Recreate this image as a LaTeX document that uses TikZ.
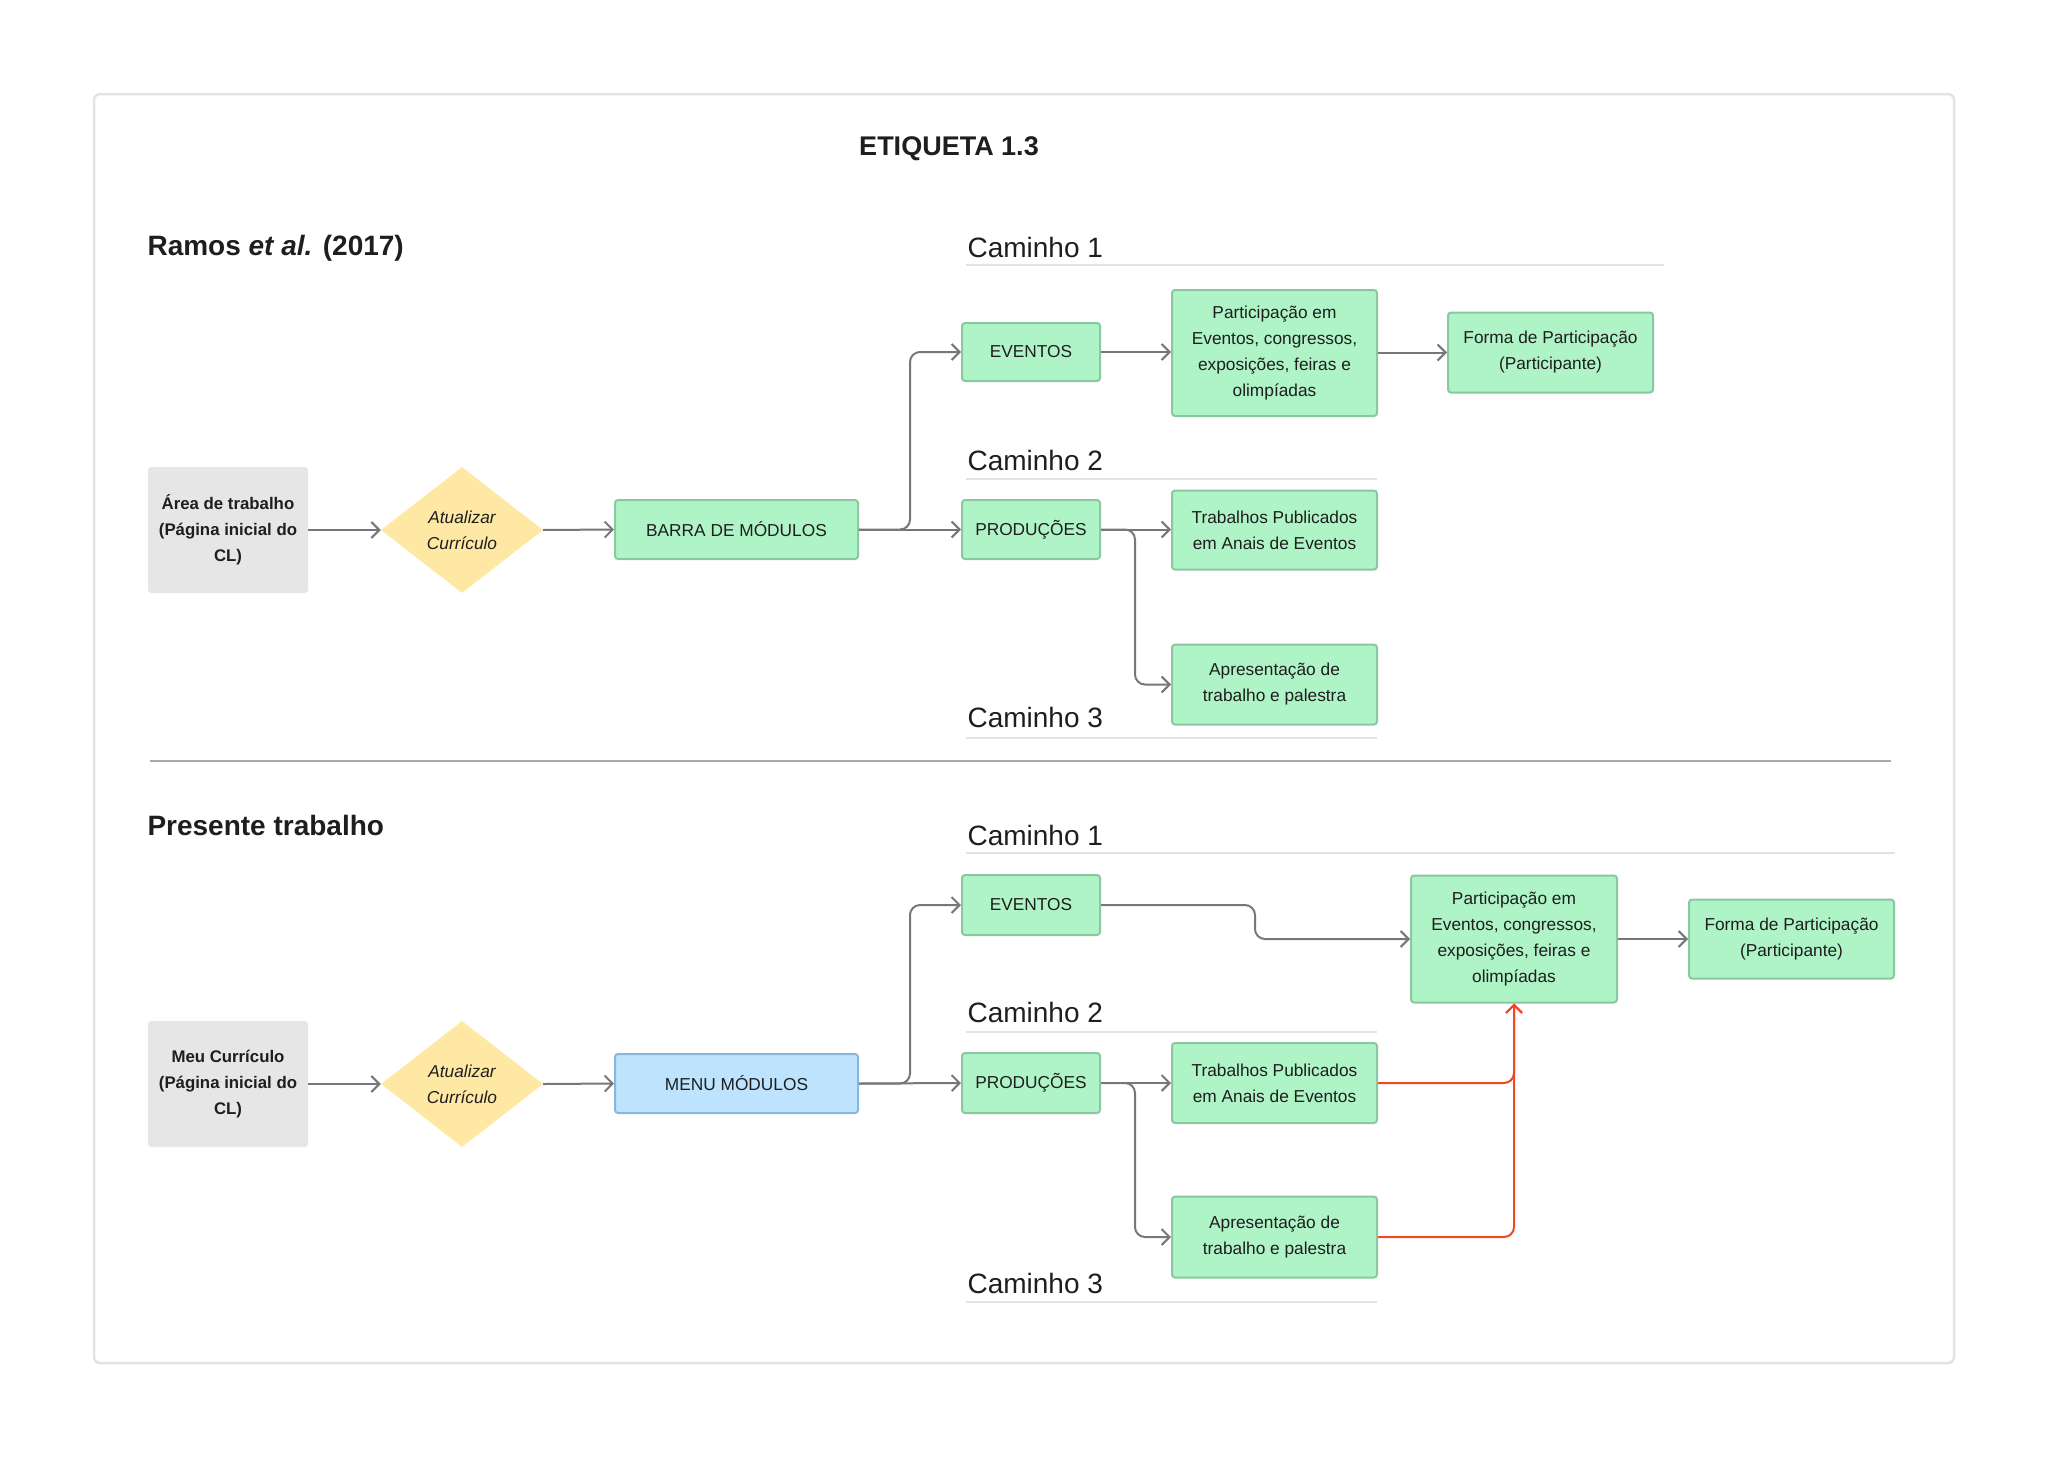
\documentclass[tikz,border=0pt]{standalone}
\usepackage{fontspec}
\setmainfont{Liberation Sans}
\usetikzlibrary{shapes.geometric,arrows.meta}
\definecolor{gfill}{HTML}{AFF4C6}
\definecolor{gborder}{HTML}{8BC7A0}
\definecolor{bfill}{HTML}{BDE3FF}
\definecolor{bborder}{HTML}{8DB5D6}
\definecolor{grayfill}{HTML}{E6E6E6}
\definecolor{yfill}{HTML}{FFE8A3}
\definecolor{conncol}{HTML}{777777}
\definecolor{redcol}{HTML}{F24822}
\definecolor{txt}{HTML}{1E1E1E}
\definecolor{framecol}{HTML}{E3E3E3}
\definecolor{sepcol}{HTML}{ABABAB}
\tikzset{
  nodefont/.style={font=\fontsize{17.3}{26}\selectfont},
  greenbox/.style={rectangle, rounded corners=3, fill=gfill, draw=gborder, line width=2, align=center, text=txt, inner sep=0, nodefont},
  bluebox/.style={greenbox, fill=bfill, draw=bborder},
  graybox/.style={rectangle, rounded corners=3, fill=grayfill, align=center, text=txt, inner sep=0, font=\fontsize{16.8}{26}\selectfont\bfseries},
  decbox/.style={diamond, fill=yfill, align=center, text=txt, inner sep=0, minimum width=162, minimum height=126, font=\fontsize{17.3}{26}\selectfont\itshape},
  conn/.style={draw=conncol, line width=2, rounded corners=10, -{Straight Barb[length=8, width=16, line width=2]}},
  redconn/.style={conn, draw=redcol},
  heading/.style={anchor=west, text=txt, font=\fontsize{28}{32}\selectfont\bfseries},
  pathlabel/.style={anchor=west, text=txt, font=\fontsize{28}{32}\selectfont},
  uline/.style={draw=framecol, line width=2},
}
\begin{document}
\begin{tikzpicture}[x=1pt, y=-1pt]
\useasboundingbox (0,0) rectangle (2048,1457);
\draw[draw=framecol, line width=2.5, rounded corners=6] (94,94) rectangle (1954,1363);
\node[anchor=center, text=txt, font=\fontsize{27}{32}\selectfont\bfseries] (title) at (949,149) {ETIQUETA 1.3};

% ---------- top section ----------
\node[heading] (h1) at (144,248) {Ramos {\itshape et al.} (2017)};
\node[pathlabel] (c11) at (964,247) {Caminho 1};
\draw[uline] (966,265) -- (1664,265);
\node[pathlabel] (c12) at (964,460) {Caminho 2};
\draw[uline] (966,479) -- (1377,479);
\node[pathlabel] (c13) at (964,717) {Caminho 3};
\draw[uline] (966,738) -- (1377,738);

\node[graybox, minimum width=160, minimum height=126] (area1) at (228,530) {Área de trabalho\\(Página inicial do\\CL)};
\node[decbox] (dia1) at (462,530) {Atualizar\\Currículo};
\node[greenbox, minimum width=243, minimum height=59] (barra) at (736.5,529.5) {BARRA DE MÓDULOS};
\node[greenbox, minimum width=138, minimum height=58] (ev1) at (1031,352) {EVENTOS};
\node[greenbox, minimum width=205, minimum height=126] (part1) at (1274.5,353) {Participação em\\Eventos, congressos,\\exposições, feiras e\\olimpíadas};
\node[greenbox, minimum width=205, minimum height=80] (forma1) at (1550.5,352.5) {Forma de Participação\\(Participante)};
\node[greenbox, minimum width=138, minimum height=59] (prod1) at (1031,529.5) {PRODUÇÕES};
\node[greenbox, minimum width=205, minimum height=79] (trab1) at (1274.5,530) {Trabalhos Publicados\\em Anais de Eventos};
\node[greenbox, minimum width=205, minimum height=80] (apr1) at (1274.5,684.5) {Apresentação de\\trabalho e palestra};

\coordinate (j1) at (910,0);
\coordinate (j2) at (1135,0);
\draw[conn] (area1.east) -- (dia1.west);
\draw[conn] (dia1.east) -- (barra.west);
\draw[conn] (barra.east) -| (j1 |- ev1.west) -- (ev1.west);
\draw[conn] (barra.east) -- (prod1.west);
\draw[conn] (ev1.east) -- (part1.west |- ev1.east);
\draw[conn] (part1.east |- forma1.west) -- (forma1.west);
\draw[conn] (prod1.east) -- (trab1.west |- prod1.east);
\draw[conn] (prod1.east) -| (j2 |- apr1.west) -- (apr1.west);

% separator
\draw[draw=sepcol, line width=2] (150,761) -- (1891,761);

% ---------- bottom section ----------
\node[heading] (h2) at (144,825) {Presente trabalho};
\node[pathlabel] (c21) at (964,835) {Caminho 1};
\draw[uline] (966,853) -- (1895,853);
\node[pathlabel] (c22) at (964,1012) {Caminho 2};
\draw[uline] (966,1032) -- (1377,1032);
\node[pathlabel] (c23) at (964,1283) {Caminho 3};
\draw[uline] (966,1302) -- (1377,1302);

\node[graybox, minimum width=160, minimum height=126] (area2) at (228,1084) {Meu Currículo\\(Página inicial do\\CL)};
\node[decbox] (dia2) at (462,1084) {Atualizar\\Currículo};
\node[bluebox, minimum width=243, minimum height=59] (menu) at (736.5,1083.5) {MENU MÓDULOS};
\node[greenbox, minimum width=138, minimum height=60] (ev2) at (1031,905) {EVENTOS};
\node[greenbox, minimum width=206, minimum height=127] (part2) at (1514,939) {Participação em\\Eventos, congressos,\\exposições, feiras e\\olimpíadas};
\node[greenbox, minimum width=205, minimum height=79] (forma2) at (1791.5,939) {Forma de Participação\\(Participante)};
\node[greenbox, minimum width=138, minimum height=60] (prod2) at (1031,1083) {PRODUÇÕES};
\node[greenbox, minimum width=205, minimum height=80] (trab2) at (1274.5,1083) {Trabalhos Publicados\\em Anais de Eventos};
\node[greenbox, minimum width=205, minimum height=81] (apr2) at (1274.5,1237) {Apresentação de\\trabalho e palestra};

\coordinate (j3) at (910,0);
\coordinate (j4) at (1135,0);
\coordinate (j5) at (1255,0);
\draw[conn] (area2.east) -- (dia2.west);
\draw[conn] (dia2.east) -- (menu.west);
\draw[conn] (menu.east) -| (j3 |- ev2.west) -- (ev2.west);
\draw[conn] (menu.east) -- (prod2.west);
\draw[conn] (ev2.east) -| (j5 |- part2.west) -- (part2.west);
\draw[conn] (part2.east) -- (forma2.west);
\draw[conn] (prod2.east) -- (trab2.west |- prod2.east);
\draw[conn] (prod2.east) -| (j4 |- apr2.west) -- (apr2.west);
\draw[redconn] (trab2.east) -| (part2.south);
\draw[redconn] (apr2.east) -| (part2.south);
\end{tikzpicture}
\end{document}
